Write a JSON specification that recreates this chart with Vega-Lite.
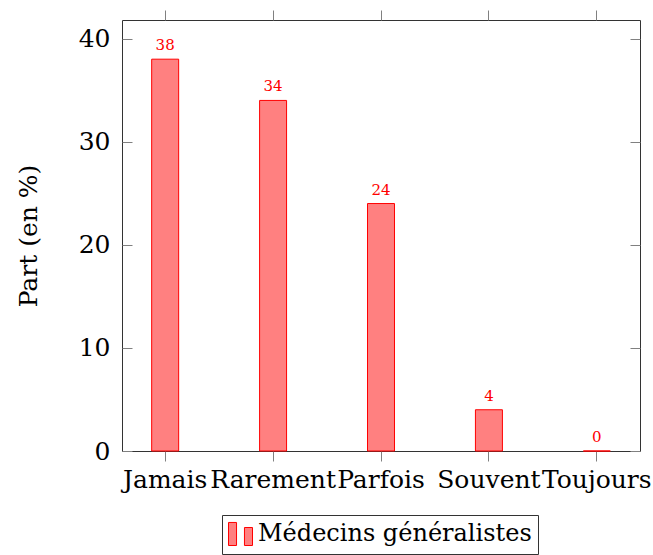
{
  "$schema": "https://vega.github.io/schema/vega-lite/v6.json",
  "autosize": "none",
  "width": 518,
  "height": 431,
  "padding": {"left": 122, "top": 20, "right": 13, "bottom": 104},
  "background": "white",
  "config": {
    "font": "DejaVu Serif",
    "view": {"stroke": "#333333", "strokeWidth": 1},
    "legend": {
      "orient": "none",
      "legendX": 100,
      "legendY": 495,
      "strokeColor": "#333333",
      "padding": 6,
      "labelColor": "#000000",
      "labelOffset": 5,
      "labelLimit": 0,
      "symbolType": "M-1,-0.92H-0.33V1H-1Z M0.33,-0.5H1V1H0.33Z",
      "symbolSize": 576,
      "symbolStrokeColor": "red",
      "symbolStrokeWidth": 1,
      "symbolFillColor": "#ff8080",
      "symbolOpacity": 1
    }
  },
  "data": {
    "values": [
      {"cat": "Jamais", "v": 38, "serie": "Médecins généralistes"},
      {"cat": "Rarement", "v": 34, "serie": "Médecins généralistes"},
      {"cat": "Parfois", "v": 24, "serie": "Médecins généralistes"},
      {"cat": "Souvent", "v": 4, "serie": "Médecins généralistes"},
      {"cat": "Toujours", "v": 0, "serie": "Médecins généralistes"}
    ]
  },
  "layer": [
    {
      "mark": {"type": "bar", "stroke": "red", "strokeWidth": 1, "fill": "#ff8080"},
      "encoding": {
        "x": {
          "field": "cat", "type": "nominal", "sort": null,
          "scale": {"paddingInner": 0.75, "paddingOuter": 0.275},
          "axis": {
            "orient": "bottom", "title": null, "domain": false, "grid": false,
            "ticks": true, "tickSize": 10, "tickColor": "#808080", "tickWidth": 1,
            "labelAngle": 0, "labelFontSize": 25, "labelColor": "#000000",
            "labelPadding": 6, "labelFont": "DejaVu Serif"
          }
        },
        "y": {
          "field": "v", "type": "quantitative",
          "scale": {"domain": [0, 41.8], "nice": false},
          "axis": {
            "orient": "left", "values": [0, 10, 20, 30, 40], "domain": false, "grid": false,
            "tickSize": -10, "tickColor": "#808080", "tickWidth": 1,
            "labelFontSize": 25, "labelColor": "#000000", "labelPadding": 22,
            "labelFont": "DejaVu Serif",
            "title": "Part (en %)", "titleFontSize": 25, "titleFontWeight": "normal",
            "titleColor": "#000000", "titleFont": "DejaVu Serif", "titlePadding": 37
          }
        },
        "color": {
          "field": "serie", "type": "nominal",
          "scale": {"range": ["#ff8080"]},
          "legend": {"title": null, "labelFont": "DejaVu Serif", "labelFontSize": 24, "labelFontWeight": "normal"}
        }
      }
    },
    {
      "mark": {"type": "text", "color": "red", "fontSize": 15, "font": "DejaVu Serif", "baseline": "alphabetic", "dy": -9},
      "encoding": {
        "x": {"field": "cat", "type": "nominal", "sort": null, "axis": null},
        "y": {"field": "v", "type": "quantitative", "axis": null},
        "text": {"field": "v", "type": "quantitative"}
      }
    },
    {
      "mark": {"type": "point", "opacity": 0},
      "encoding": {
        "x": {
          "field": "cat", "type": "nominal", "sort": null,
          "axis": {"orient": "top", "title": null, "labels": false, "domain": false, "grid": false,
                   "tickSize": 10, "tickColor": "#808080", "tickWidth": 1}
        },
        "y": {
          "field": "v", "type": "quantitative",
          "axis": {"orient": "right", "values": [0, 10, 20, 30, 40], "title": null, "labels": false,
                   "domain": false, "grid": false, "tickSize": -10, "tickColor": "#808080", "tickWidth": 1}
        }
      }
    }
  ],
  "resolve": {"axis": {"x": "independent", "y": "independent"}}
}
